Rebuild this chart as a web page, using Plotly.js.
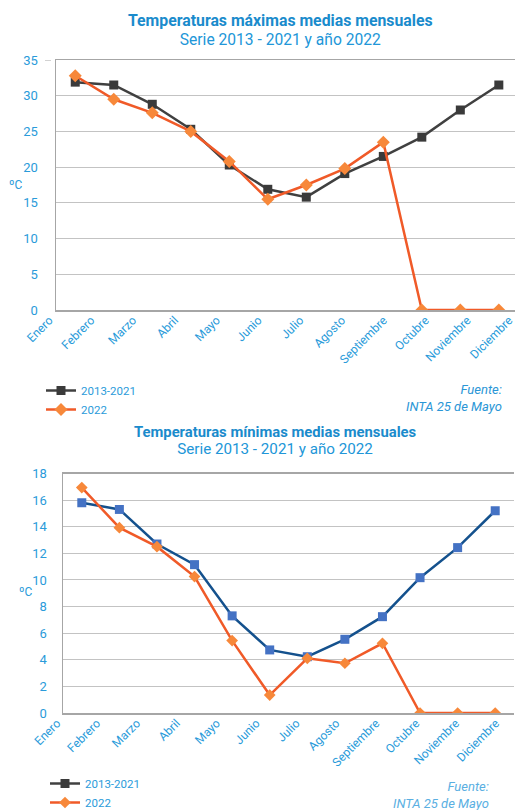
<!DOCTYPE html>
<html>
<head>
<meta charset="utf-8">
<script src="https://cdn.plot.ly/plotly-3.0.1.min.js"></script>
<style>
html,body{margin:0;padding:0;background:#fff;overflow:hidden;width:100%;height:100%}
#c{position:absolute;top:0;left:0;width:515px;height:810px}
</style>
</head>
<body>
<div id="c"></div>
<script>
var meses = ["Enero","Febrero","Marzo","Abril","Mayo","Junio","Julio","Agosto","Septiembre","Octubre","Noviembre","Diciembre"];
var maxSerie = [31.9, 31.5, 28.8, 25.3, 20.3, 16.9, 15.8, 19.1, 21.5, 24.2, 28.0, 31.5];
var max2022  = [32.8, 29.5, 27.6, 25.0, 20.8, 15.5, 17.5, 19.8, 23.5, 0, 0, 0];
var minSerie = [15.8, 15.3, 12.7, 11.15, 7.3, 4.74, 4.23, 5.54, 7.24, 10.17, 12.43, 15.2];
var min2022  = [16.94, 13.93, 12.5, 10.25, 5.44, 1.35, 4.11, 3.74, 5.24, 0, 0, 0];
var idx = meses.map(function(m,i){return i;});
var vacio = meses.map(function(){return null;});

var FONT = "Roboto, 'Open Sans', sans-serif";
var BLUE = "#2A9BDA";
var GRAY = "#404040", ORANGE = "#F05A28", ODIAM = "#F7883A";
var NAVY = "#14518D", SQBLUE = "#4472C4";

function py(p){ return 1 - p/810; }
function px(p){ return p/515; }

var traces = [
  {x: idx, y: maxSerie, xaxis:'x', yaxis:'y', name:'2013-2021', legend:'legend', mode:'lines+markers',
   line:{color:GRAY, width:2.5}, marker:{symbol:'square', size:9, color:'#3A3A3A'}},
  {x: idx, y: max2022, xaxis:'x', yaxis:'y', name:'2022', legend:'legend', mode:'lines+markers',
   line:{color:ORANGE, width:2.5}, marker:{symbol:'diamond', size:10, color:ODIAM}},
  {x: idx, y: minSerie, xaxis:'x2', yaxis:'y2', name:'2013-2021', showlegend:false, mode:'lines+markers',
   line:{color:NAVY, width:2.5}, marker:{symbol:'square', size:9, color:SQBLUE}},
  {x: idx, y: min2022, xaxis:'x2', yaxis:'y2', name:'2022', legend:'legend2', mode:'lines+markers', legendrank:2,
   line:{color:ORANGE, width:2.5}, marker:{symbol:'diamond', size:9, color:ODIAM}},
  {x: [null], y: [null], xaxis:'x2', yaxis:'y2', name:'2013-2021', legend:'legend2', mode:'lines+markers', legendrank:1,
   line:{color:GRAY, width:2.5}, marker:{symbol:'square', size:9, color:'#3A3A3A'}},
  {x: idx, y: vacio, xaxis:'x3', yaxis:'y3', showlegend:false, mode:'markers', hoverinfo:'skip', marker:{opacity:0}},
  {x: idx, y: vacio, xaxis:'x4', yaxis:'y4', showlegend:false, mode:'markers', hoverinfo:'skip', marker:{opacity:0}}
];

var yTick = {family: FONT, size: 13, color: BLUE};
var xTick = {family: FONT, size: 12, color: BLUE};

var layout = {
  width: 515, height: 810, autosize: false,
  margin: {l:0, r:0, t:0, b:0, autoexpand:false},
  paper_bgcolor: '#fff', plot_bgcolor: 'rgba(0,0,0,0)',
  font: {family: FONT, color: BLUE},
  showlegend: true,
  xaxis: {type:'linear', domain:[px(56), 1], range:[-0.5, 11.42], anchor:'y', showticklabels:false, showgrid:false,
          zeroline:false, showline:true, linecolor:'#A6A6A6', linewidth:1.5, mirror:true, ticks:''},
  xaxis3: {type:'linear', anchor:'y3', domain:[px(41), px(514)], range:[-0.2, 11.12],
           tickmode:'array', tickvals: idx, ticktext: meses, ticklabeloverflow:'allow',
           tickangle:-45, tickfont: xTick, showgrid:false, zeroline:false, showline:false, ticks:'', showticklabels:true},
  yaxis3: {anchor:'x3', domain:[py(310), py(300)], visible:false, showgrid:false, zeroline:false, range:[0,1]},
  yaxis: {domain:[py(310), py(60)], range:[0, 35], anchor:'x', dtick:5, tick0:0, tickfont: yTick,
          gridcolor:'#C3C3C3', gridwidth:1, zeroline:false, showline:true, linecolor:'#A6A6A6', linewidth:1.5,
          ticks:'', ticklabelstandoff: 14},
  xaxis2: {type:'linear', domain:[px(63), px(514)], range:[-0.5, 11.5], anchor:'y2', showticklabels:false, showgrid:false,
           zeroline:false, showline:true, linecolor:'#A6A6A6', linewidth:1.5, mirror:true, ticks:''},
  xaxis4: {type:'linear', anchor:'y4', domain:[px(49), px(502.9)], range:[-0.2, 11.18],
           tickmode:'array', tickvals: idx, ticktext: meses, ticklabeloverflow:'allow',
           tickangle:-45, tickfont: xTick, showgrid:false, zeroline:false, showline:false, ticks:'', showticklabels:true},
  yaxis4: {anchor:'x4', domain:[py(713), py(703)], visible:false, showgrid:false, zeroline:false, range:[0,1]},
  yaxis2: {domain:[py(713), py(473.5)], range:[0, 18], anchor:'x2', dtick:2, tick0:0, tickfont: yTick,
           gridcolor:'#C3C3C3', gridwidth:1, zeroline:false, showline:true, linecolor:'#A6A6A6', linewidth:1.5,
           ticks:'', ticklabelstandoff: 12},
  legend: {x: px(41), y: py(376), xanchor:'left', yanchor:'top', bgcolor:'rgba(0,0,0,0)',
           font:{family: FONT, size: 11.5, color: BLUE}, itemwidth: 30, tracegroupgap: 0, traceorder:'normal'},
  legend2: {x: px(45), y: py(769), xanchor:'left', yanchor:'top', bgcolor:'rgba(0,0,0,0)',
           font:{family: FONT, size: 11.5, color: BLUE}, itemwidth: 30, tracegroupgap: 0, traceorder:'normal'},
  shapes: [
    {type:'line', xref:'paper', yref:'y', x0:px(45), x1:px(51), y0:35, y1:35, line:{color:'#A6A6A6', width:1}}
  ],
  annotations: [
    {text:'<b><span style="font-size:15.8px">Temperaturas máximas medias mensuales</span></b><br>' +
          '<span style="font-size:15.6px;color:#2196D8">Serie 2013 - 2021 y año 2022</span>',
     x:px(280), y:py(29.5), xref:'paper', yref:'paper', showarrow:false,
     font:{family:FONT, size:14.6, color:'#1A8BCC'}, xanchor:'center', yanchor:'middle', align:'center'},
    {text:'<b><span style="font-size:14.8px">Temperaturas mínimas medias mensuales</span></b><br>' +
          '<span style="font-size:15.2px;color:#2196D8">Serie 2013 - 2021 y año 2022</span>',
     x:px(275), y:py(440.5), xref:'paper', yref:'paper', showarrow:false,
     font:{family:FONT, size:13, color:'#1A8BCC'}, xanchor:'center', yanchor:'middle', align:'center'},
    {text:'ºC', x:px(15), y:py(185), xref:'paper', yref:'paper', showarrow:false,
     font:{family:FONT, size:12, color:BLUE}, xanchor:'center', yanchor:'middle'},
    {text:'ºC', x:px(25), y:py(592), xref:'paper', yref:'paper', showarrow:false,
     font:{family:FONT, size:12, color:BLUE}, xanchor:'center', yanchor:'middle'},
    {text:'<i>Fuente:</i><br><i>INTA 25 de Mayo</i>', x:px(504), y:py(398), xref:'paper', yref:'paper',
     showarrow:false, align:'right', font:{family:FONT, size:13, color:'#2A96D6'}, xanchor:'right', yanchor:'middle'},
    {text:'<i>Fuente:</i><br><i>INTA 25 de Mayo</i>', x:px(491), y:py(795), xref:'paper', yref:'paper',
     showarrow:false, align:'right', font:{family:FONT, size:13, color:'#5AAFE2'}, xanchor:'right', yanchor:'middle'}
  ]
};

Plotly.newPlot('c', traces, layout, {displayModeBar:false, staticPlot:true});
</script>
</body>
</html>
